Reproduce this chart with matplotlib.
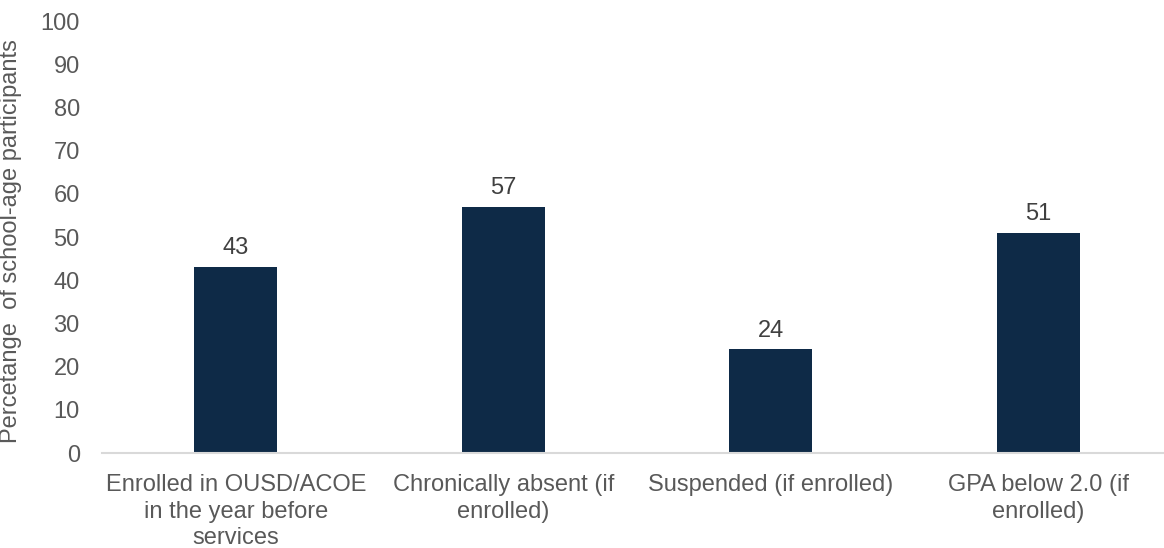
import matplotlib.pyplot as plt

plt.rcParams['font.family'] = ['Liberation Sans', 'DejaVu Sans']

categories = ["Enrolled in OUSD/ACOE\nin the year before\nservices",
              "Chronically absent (if\nenrolled)",
              "Suspended (if enrolled)",
              "GPA below 2.0 (if\nenrolled)"]
values = [43, 57, 24, 51]

fig = plt.figure(figsize=(11.64, 5.48), dpi=100)
ax = fig.add_axes([102 / 1164, 1 - 453 / 548, 1 - 102 / 1164, (453 - 21) / 548])

x = range(len(values))
bars = ax.bar(x, values, width=0.31, color='#0E2A47', zorder=2)
for xi, v in zip(x, values):
    ax.text(xi, v + 1.8, str(v), ha='center', va='bottom', fontsize=17, color='#404040')

ax.set_xlim(-0.5, 3.47)
ax.set_ylim(0, 100)
ax.set_yticks(range(0, 101, 10))
ax.set_xticks(list(x))
ax.set_xticklabels(categories, fontsize=17, color='#595959', linespacing=1.28)
ax.tick_params(axis='y', labelsize=17, labelcolor='#595959', length=0, pad=16)
ax.tick_params(axis='x', length=0, pad=15)

for s in ['top', 'right', 'left']:
    ax.spines[s].set_visible(False)
ax.spines['bottom'].set_color('#D9D9D9')
ax.spines['bottom'].set_linewidth(1.5)

ax.set_ylabel("Percetange  of school-age participants", fontsize=17, color='#595959')
ax.yaxis.set_label_coords(-0.075, 0.49)

fig.savefig('out.png', dpi=100)
